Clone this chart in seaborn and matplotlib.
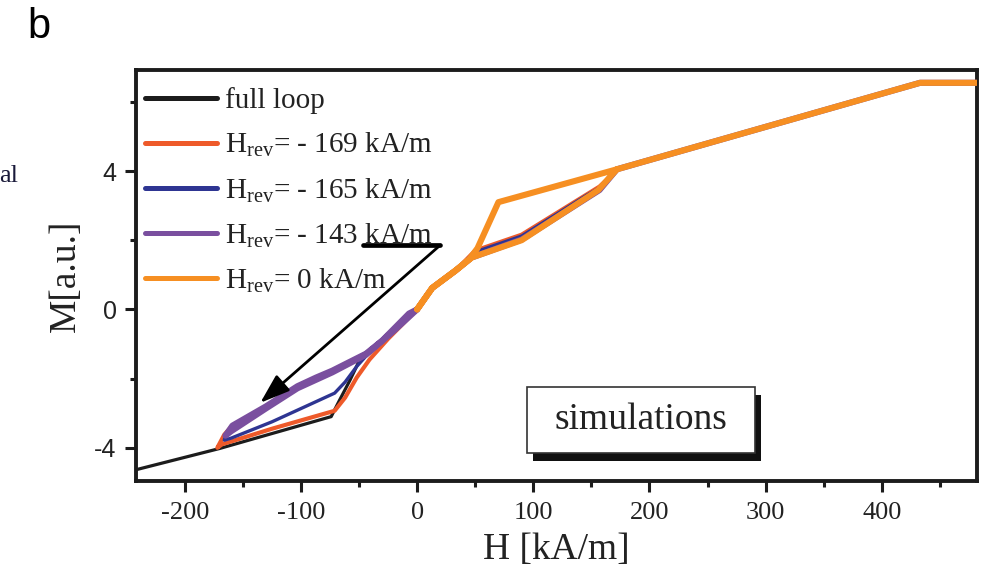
import numpy as np
import pandas as pd
import matplotlib
matplotlib.use("Agg")
import matplotlib.pyplot as plt
import seaborn as sns
from matplotlib.lines import Line2D
from matplotlib.patches import Rectangle

# ---------------- data ----------------
series_labels = ["full loop",
                 "H$_{\\rm rev}$= - 169 kA/m",
                 "H$_{\\rm rev}$= - 165 kA/m",
                 "H$_{\\rm rev}$= - 143 kA/m",
                 "H$_{\\rm rev}$= 0 kA/m"]

full_H = [-245, -170, -74, -67, -58, -50, -40, -25, 0, 13, 33, 47, 92, 157, 173, 433, 482]
full_M = [-4.66, -4.02, -3.10, -2.64, -2.06, -1.50, -1.19, -0.80, 0.0, 0.62, 1.12, 1.5, 2.05, 3.45, 4.05, 6.55, 6.55]

r169_H = [0, -7, -30, -44, -60, -73, -87, -103, -130, -159, -166, -172, -168, -125, -71, -62, -52, -41, -25, 0, 13, 33, 50, 90, 157, 173, 433, 482]
r169_M = [0, -0.12, -0.9, -1.28, -1.55, -1.77, -1.97, -2.22, -2.8, -3.36, -3.62, -4.0, -3.9, -3.45, -2.93, -2.55, -1.97, -1.45, -0.85, 0, 0.62, 1.12, 1.7, 2.16, 3.55, 4.05, 6.55, 6.55]

r165_H = [0, -7, -30, -44, -60, -73, -87, -103, -130, -159, -165, -166, -160, -125, -97, -71, -62, -52, -44, -38, -20, 0, 13, 33, 50, 90, 146, 159, 173, 433, 482]
r165_M = [0, -0.12, -0.9, -1.28, -1.55, -1.77, -1.97, -2.22, -2.8, -3.36, -3.65, -3.78, -3.72, -3.25, -2.82, -2.42, -2.10, -1.65, -1.35, -1.15, -0.62, 0, 0.62, 1.12, 1.66, 2.12, 3.3, 3.55, 4.05, 6.55, 6.55]

r143_H = [0, -7, -30, -44, -60, -73, -87, -103, -130, -159, -165, -160, -130, -103, -73, -44, -20, 0, 13, 33, 47, 90, 157, 172, 433, 482]
r143_M = [0, -0.12, -0.9, -1.28, -1.55, -1.77, -1.97, -2.22, -2.8, -3.36, -3.65, -3.52, -2.86, -2.28, -1.82, -1.31, -0.62, 0, 0.62, 1.12, 1.5, 2.02, 3.45, 4.05, 6.55, 6.55]

r0_H = [482, 433, 172, 70, 52, 45, 33, 13, 0, 13, 33, 47, 90, 156, 172]
r0_M = [6.55, 6.55, 4.05, 3.1, 1.77, 1.45, 1.12, 0.62, 0, 0.62, 1.12, 1.5, 2.0, 3.45, 4.05]

x_ticks = [-200, -100, 0, 100, 200, 300, 400]
x_tick_labels = ["-200", "-100", "0", "100", "200", "300", "400"]
x_minor = [-150, -50, 50, 150, 250, 350, 450]
y_ticks = [-4, 0, 4]
y_tick_labels = ["-4", "0", "4"]
y_minor = [-2, 2, 6]

# ---------------- style ----------------
sns.set_style("ticks")
plt.rcParams["font.family"] = ["Liberation Serif", "DejaVu Serif"]
plt.rcParams["mathtext.fontset"] = "custom"
plt.rcParams["mathtext.rm"] = "Liberation Serif"
plt.rcParams["mathtext.it"] = "Liberation Serif:italic"
plt.rcParams["axes.unicode_minus"] = False

colors = ["#1c1c1c", "#ee5a2a", "#2e3592", "#7a4f9f", "#f68f22"]
widths = [2.3, 3.0, 2.4, 4.4, 4.4]

paths = [(full_H, full_M), (r169_H, r169_M), (r165_H, r165_M), (r143_H, r143_M), (r0_H, r0_M)]
frames = []
for lab, (h, m) in zip(series_labels, paths):
    frames.append(pd.DataFrame({"H": h, "M": m, "series": lab, "step": np.arange(len(h))}))
df = pd.concat(frames, ignore_index=True)

fig = plt.figure(figsize=(9.81, 5.85), dpi=100)
ax = fig.add_axes([136 / 981, 104 / 585, 841 / 981, 411 / 585])

for i, lab in enumerate(series_labels):
    sub = df[df["series"] == lab]
    sns.lineplot(data=sub, x="H", y="M", sort=False, estimator=None, ax=ax,
                 color=colors[i], lw=widths[i], zorder=2 + i,
                 solid_joinstyle="round", solid_capstyle="round", legend=False)

ax.set_xlim(-242, 482)
ax.set_ylim(-4.96, 6.92)

ax.set_xticks(x_ticks)
ax.set_xticklabels(x_tick_labels, fontsize=19, family=["Liberation Serif"], color="#222222")
ax.set_xticks(x_minor, minor=True)
ax.set_yticks(y_ticks)
ax.set_yticklabels(y_tick_labels, fontsize=18, family=["Liberation Sans"], color="#222222")
ax.set_yticks(y_minor, minor=True)
ax.tick_params(which="major", direction="out", length=8, width=2.2, color="#1c1c1c")
ax.tick_params(axis="x", which="major", pad=7)
ax.tick_params(axis="y", which="major", pad=6)
ax.tick_params(which="minor", direction="out", length=4.5, width=2.2, color="#1c1c1c")
for s in ax.spines.values():
    s.set_visible(True)
    s.set_linewidth(2.8)
    s.set_color("#1c1c1c")

ax.set_xlabel("H [kA/m]", fontsize=27, color="#222222", labelpad=6)
ax.set_ylabel("M[a.u.]", fontsize=27, color="#222222", labelpad=8)

# legend
handles = [Line2D([0], [0], color=c, lw=3.6, solid_capstyle="round") for c in colors]
leg = ax.legend(handles, series_labels, loc="upper left", bbox_to_anchor=(0.004, 0.972),
                frameon=False, fontsize=21, handlelength=2.45, handletextpad=0.3,
                labelspacing=0.58, borderpad=0.2, borderaxespad=0.0)
for t in leg.get_texts():
    t.set_color("#222222")

# arrow
ax.plot([-47, 20], [1.86, 1.86], color="black", lw=3.4, solid_capstyle="round", zorder=10)
ax.annotate("", xy=(-135, -2.70), xytext=(20, 1.86),
            arrowprops=dict(arrowstyle="-|>,head_length=1.3,head_width=0.45",
                            color="black", lw=2.0, mutation_scale=14,
                            shrinkA=0, shrinkB=0), zorder=10)

# "simulations" box with shadow
bx, by, bw, bh = 0.4649, 0.0681, 0.2711, 0.1606
ax.add_patch(Rectangle((bx + 0.0071, by - 0.0195), bw, bh, transform=ax.transAxes,
                       facecolor="#111111", edgecolor="none", zorder=11))
ax.add_patch(Rectangle((bx, by), bw, bh, transform=ax.transAxes,
                       facecolor="white", edgecolor="#333333", lw=1.2, zorder=12))
ax.text(bx + bw / 2, by + bh / 2, "simulations", transform=ax.transAxes,
        ha="center", va="center", fontsize=27, color="#222222", zorder=13)

# panel letter and cut-off neighbour text
fig.text(27 / 981, 1 - 27 / 585, "b", fontsize=30, family=["Liberation Sans"],
         ha="left", va="center", color="black")
fig.text(18 / 981, 1 - 176 / 585, "al", fontsize=19, ha="right", va="center",
         color="#1a1a3a")

fig.savefig("out.png", dpi=100)
